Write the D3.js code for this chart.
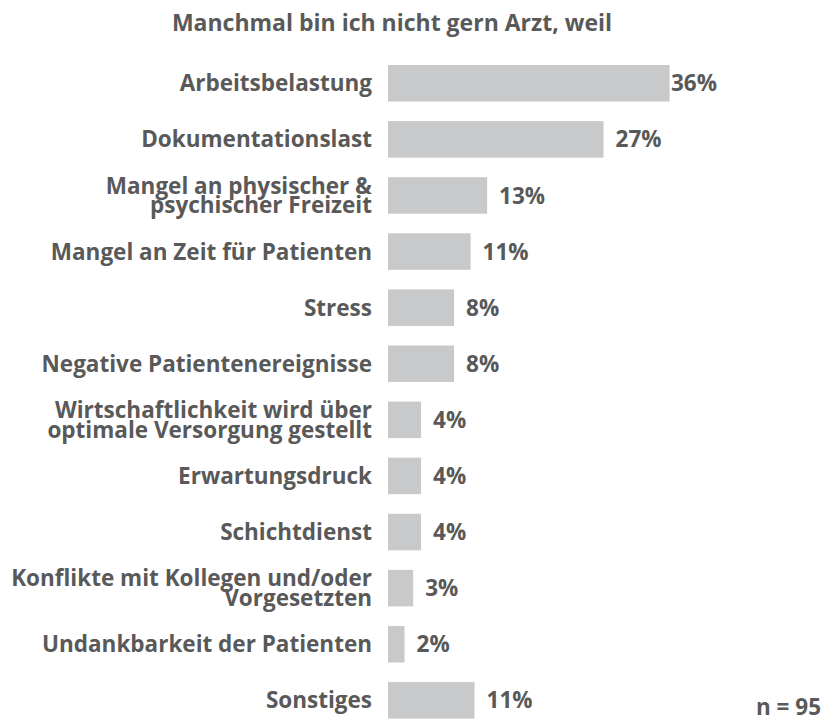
<!DOCTYPE html>
<html>
<head>
<meta charset="utf-8">
<script src="https://cdn.jsdelivr.net/npm/d3@7"></script>
<style>
  html, body { margin: 0; padding: 0; background: #fff; }
  svg { display: block; }
  text { font-family: "Open Sans", "DejaVu Sans", sans-serif; font-weight: 700; fill: #595959; }
</style>
</head>
<body>
<svg id="chart" width="827" height="722"></svg>
<script>
const title = "Manchmal bin ich nicht gern Arzt, weil";
const categories = [
  "Arbeitsbelastung",
  "Dokumentationslast",
  "Mangel an physischer &\npsychischer Freizeit",
  "Mangel an Zeit für Patienten",
  "Stress",
  "Negative Patientenereignisse",
  "Wirtschaftlichkeit wird über\noptimale Versorgung gestellt",
  "Erwartungsdruck",
  "Schichtdienst",
  "Konflikte mit Kollegen und/oder\nVorgesetzten",
  "Undankbarkeit der Patienten",
  "Sonstiges"
];
const values = [35.8, 27.4, 12.6, 10.5, 8.4, 8.4, 4.2, 4.2, 4.2, 3.2, 2.1, 11.0];
const valueLabels = ["36%", "27%", "13%", "11%", "8%", "8%", "4%", "4%", "4%", "3%", "2%", "11%"];
const footnote = "n = 95";

const svg = d3.select("#chart");
const barColor = "#c8c9ca";
const fontSize = 22.5;

const x = d3.scaleLinear().domain([0, 100]).range([388, 388 + 786.6]);
const y = d3.scaleBand().domain(categories).range([65, 718.6]).paddingInner(0.349).paddingOuter(0);

// title
svg.append("text")
  .attr("x", 392).attr("y", 31)
  .attr("text-anchor", "middle")
  .style("font-size", "23px")
  .text(title);

// bars
svg.append("g").selectAll("rect")
  .data(categories)
  .join("rect")
  .attr("x", x(0))
  .attr("y", d => y(d))
  .attr("width", (d, i) => x(values[i]) - x(0))
  .attr("height", y.bandwidth())
  .attr("fill", barColor);

// category labels
const lab = svg.append("g").selectAll("text")
  .data(categories)
  .join("text")
  .attr("text-anchor", "end")
  .style("font-size", fontSize + "px")
  .attr("x", 372);
lab.each(function(d) {
  const lines = d.split("\n");
  const cy = y(d) + y.bandwidth() / 2;
  const lh = 19.5;
  const t = d3.select(this);
  lines.forEach((ln, k) => {
    const off = (k - (lines.length - 1) / 2) * lh;
    t.append("tspan").attr("x", 372).attr("y", cy + off).attr("dy", "0.36em").text(ln);
  });
});

// value labels
svg.append("g").selectAll("text")
  .data(categories)
  .join("text")
  .style("font-size", fontSize + "px")
  .attr("x", (d, i) => Math.min(x(values[i]) + 12, 671))
  .attr("y", d => y(d) + y.bandwidth() / 2)
  .attr("dy", "0.36em")
  .text((d, i) => valueLabels[i]);

// footnote
svg.append("text")
  .attr("x", 821).attr("y", 715)
  .attr("text-anchor", "end")
  .style("font-size", fontSize + "px")
  .text(footnote);
</script>
</body>
</html>
